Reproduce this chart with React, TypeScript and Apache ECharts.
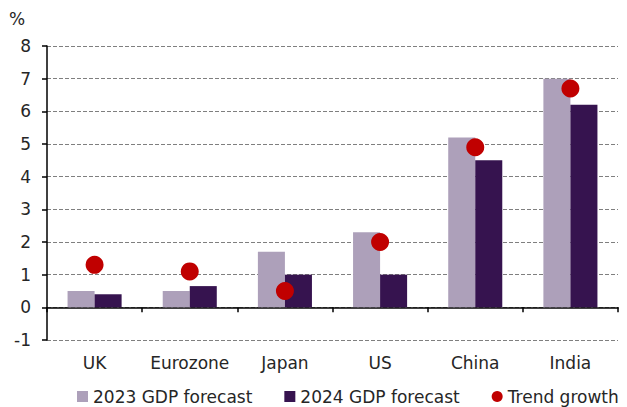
import React, { useEffect, useRef } from "react";
import * as echarts from "echarts";

const categories = ["UK", "Eurozone", "Japan", "US", "China", "India"];
const gdp2023 = [0.5, 0.5, 1.7, 2.3, 5.2, 7.0];
const gdp2024 = [0.4, 0.65, 1.0, 1.0, 4.5, 6.2];
const trendGrowth = [1.3, 1.1, 0.5, 2.0, 4.9, 6.7];

const FONT = "DejaVu Sans";
const FS = 17;
const TXT = "#262626";

export default function App() {
  const ref = useRef<HTMLDivElement>(null);
  useEffect(() => {
    if (!ref.current) return;
    const chart = echarts.init(ref.current, undefined, { renderer: "svg" });
    chart.setOption({
      animation: false,
      textStyle: { fontFamily: FONT },
      grid: { left: 47, right: 9, top: 46, bottom: 67 },
      graphic: [
        {
          type: "text",
          left: 9,
          top: 10,
          style: { text: "%", fontSize: FS, fill: TXT, fontFamily: FONT },
        },
      ],
      legend: {
        bottom: -3,
        left: 72,
        itemWidth: 11,
        itemHeight: 11,
        itemGap: 32,
        textStyle: { fontSize: FS, color: TXT, fontFamily: FONT },
        data: [
          { name: "2023 GDP forecast", icon: "rect" },
          { name: "2024 GDP forecast", icon: "rect" },
          { name: "Trend growth", icon: "circle" },
        ],
      },
      xAxis: [
        {
          type: "category",
          data: categories,
          position: "bottom",
          axisLine: { onZero: true, lineStyle: { color: "#000", width: 1.5 } },
          axisTick: { show: true, length: 5, lineStyle: { color: "#000", width: 1.5 } },
          axisLabel: { show: false },
          splitLine: { show: false },
        },
        {
          type: "category",
          data: categories,
          position: "bottom",
          axisLine: { show: false, onZero: false },
          axisTick: { show: false },
          axisLabel: { interval: 0, margin: 14, fontSize: FS, color: TXT, fontFamily: FONT },
          splitLine: { show: false },
        },
      ],
      yAxis: {
        type: "value",
        min: -1,
        max: 8,
        interval: 1,
        axisLine: { show: true, lineStyle: { color: "#000", width: 1.5 } },
        axisTick: { show: true, length: 5, lineStyle: { color: "#000", width: 1.5 } },
        axisLabel: { fontSize: FS, color: TXT, margin: 16, fontFamily: FONT },
        splitLine: { show: true, lineStyle: { color: "#7f7f7f", type: [4, 2], width: 1 } },
      },
      series: [
        {
          name: "2023 GDP forecast",
          type: "bar",
          xAxisIndex: 0,
          data: gdp2023,
          barWidth: "28.4%",
          barGap: "0%",
          itemStyle: { color: "#ADA0BA" },
        },
        {
          name: "2024 GDP forecast",
          type: "bar",
          xAxisIndex: 0,
          data: gdp2024,
          barWidth: "28.4%",
          barGap: "0%",
          itemStyle: { color: "#36134F" },
        },
        {
          name: "Trend growth",
          type: "scatter",
          xAxisIndex: 0,
          data: trendGrowth,
          symbolSize: 18,
          z: 5,
          itemStyle: { color: "#C00000", opacity: 1 },
        },
      ],
    });
    return () => chart.dispose();
  }, []);
  return <div ref={ref} style={{ width: 627, height: 407, position: "absolute", left: 0, top: 0 }} />;
}
